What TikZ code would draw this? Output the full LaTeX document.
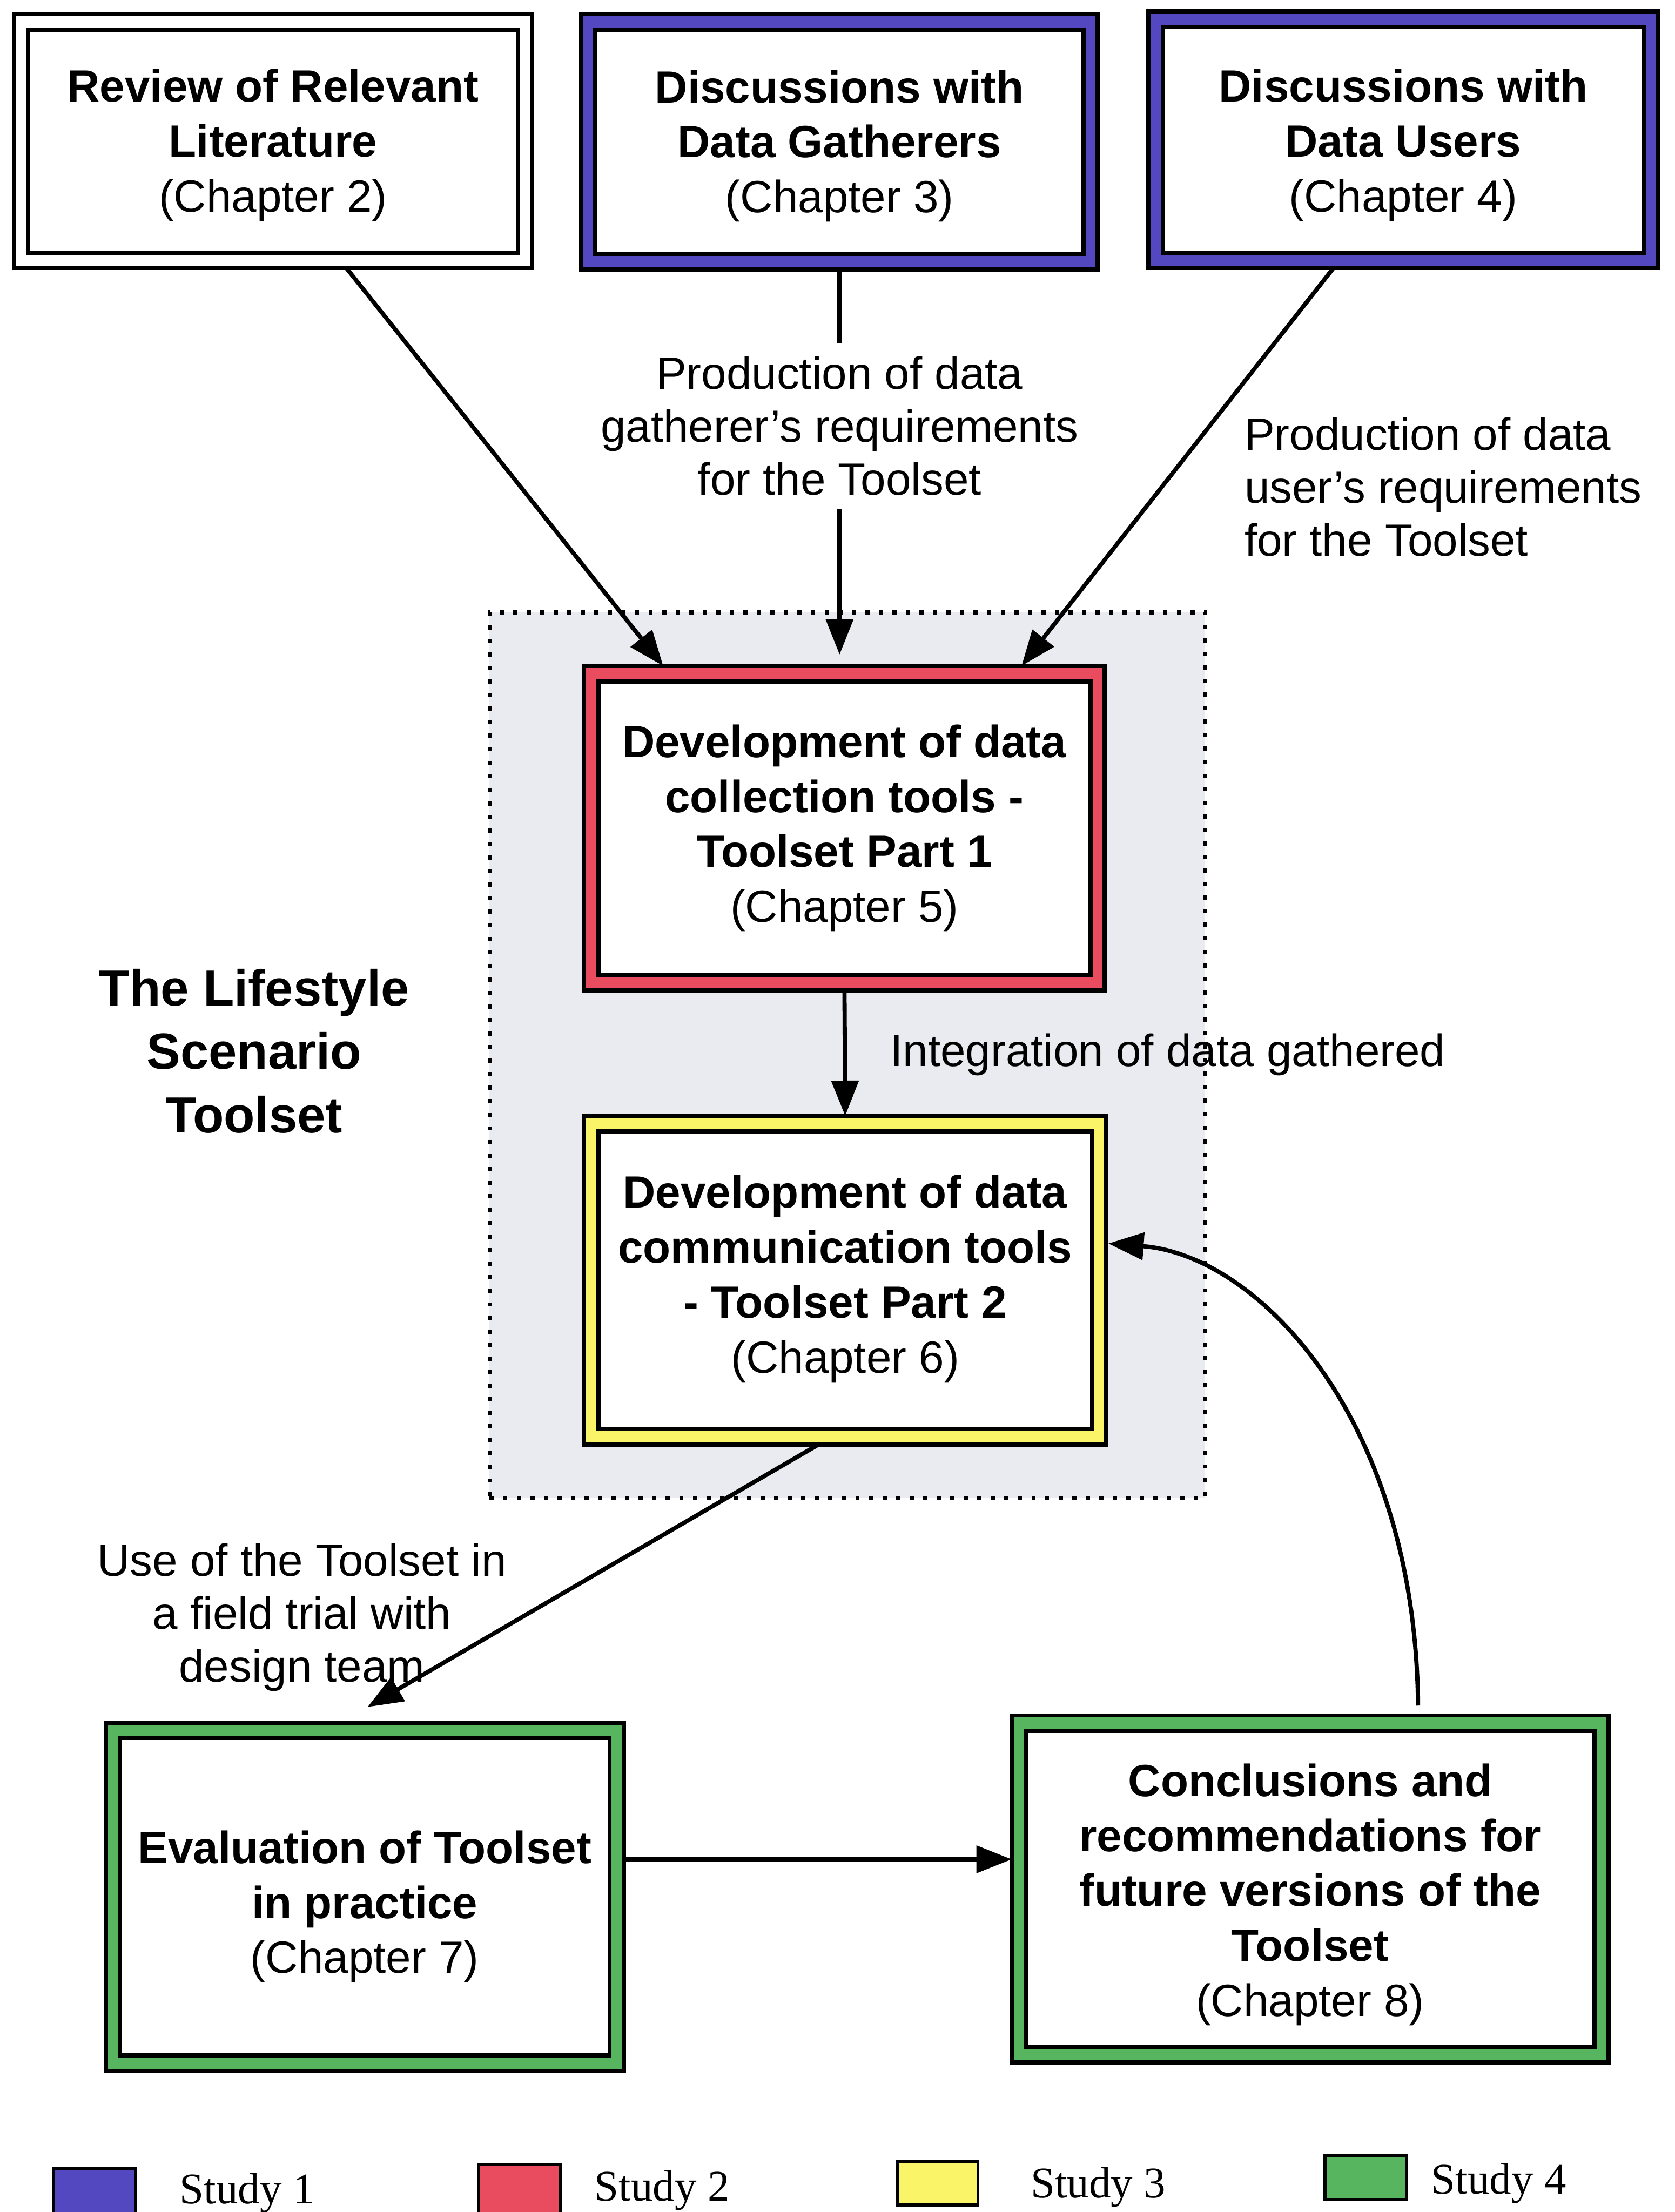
\documentclass[tikz,border=0pt]{standalone}
\usepackage{fontspec}
\setmainfont{Liberation Sans}
\newfontfamily\legendfont{Liberation Serif}
\usetikzlibrary{arrows.meta,calc,fit}

\definecolor{studyblue}{RGB}{84,72,192}
\definecolor{studyred}{RGB}{232,76,94}
\definecolor{studyyellow}{RGB}{250,244,104}
\definecolor{studygreen}{RGB}{86,181,94}
\definecolor{toolsetshade}{RGB}{234,234,241}

\tikzset{
  frame/.style={draw=black, line width=1.5pt, inner sep=0pt, outer sep=0pt},
  boxtext/.style={align=center, inner sep=0pt, font=\fontsize{16}{19.5}\selectfont},
  note/.style={inner sep=0pt, outer sep=0pt, font=\fontsize{16}{18.75}\selectfont},
  conn/.style={line width=1.5pt, -{Triangle[length=12.5pt,width=9.5pt]}},
  keybox/.style={draw=black, line width=1pt, inner sep=0pt, outer sep=0pt},
  keytext/.style={inner sep=0pt, anchor=base west, font=\legendfont\fontsize{15.5}{18}\selectfont},
}

% double-framed chapter box: name, band colour, corners, text offset, text
\newcommand\chapbox[8]{%
  \node[frame, fill=#2, fit={(#3,#4) (#5,#6)}] (#1) {};
  \draw[frame, fill=white] ($(#1.south west)+(5pt,5.5pt)$) rectangle ($(#1.north east)+(-5pt,-5.5pt)$);
  \node[boxtext] (#1-txt) at ($(#1.center)+(0,#7)$) {#8};
}

\begin{document}
\begin{tikzpicture}[x=0.5pt, y=-0.5pt]
  \useasboundingbox (0,0) rectangle (1187,1568);
  \fill[white] (0,0) rectangle (1187,1568);

  % shaded area holding the two parts of the toolset
  \node[fit={(347,434) (854,1062)}, inner sep=0pt, outer sep=0pt,
        fill=toolsetshade, draw=black, line width=1.5pt,
        dash pattern=on 1.5pt off 3.3pt] (zone) {};

  % chapter boxes
  \chapbox{B1}{white}{10}{10}{377}{190}{3}{\textbf{Review of Relevant}\\\textbf{Literature}\\(Chapter 2)}
  \chapbox{B2}{studyblue}{412}{10}{778}{191}{3}{\textbf{Discussions with}\\\textbf{Data Gatherers}\\(Chapter 3)}
  \chapbox{B3}{studyblue}{814}{8}{1175}{190}{4}{\textbf{Discussions with}\\\textbf{Data Users}\\(Chapter 4)}
  \chapbox{R}{studyred}{414}{472}{783}{702}{0}{\textbf{Development of data}\\\textbf{collection tools -}\\\textbf{Toolset Part 1}\\(Chapter 5)}
  \chapbox{Y}{studyyellow}{414}{791}{784}{1024}{-1}{\textbf{Development of data}\\\textbf{communication tools}\\\textbf{- Toolset Part 2}\\(Chapter 6)}
  \chapbox{G1}{studygreen}{75}{1221}{442}{1468}{7}{\textbf{Evaluation of Toolset}\\\textbf{in practice}\\(Chapter 7)}
  \chapbox{G2}{studygreen}{717}{1216}{1140}{1462}{4}{\textbf{Conclusions and}\\\textbf{recommendations for}\\\textbf{future versions of the}\\\textbf{Toolset}\\(Chapter 8)}

  % side title
  \node[align=center, inner sep=0pt, font=\bfseries\fontsize{18}{22.5}\selectfont]
    (title) at (180,745) {The Lifestyle\\Scenario\\Toolset};

  % connector labels
  \node[note, align=center, minimum height=59pt] (needsG) at (595,302)
    {Production of data\\gatherer’s requirements\\for the Toolset};
  \node[note, align=left, anchor=north west] (needsU) at (882,296)
    {Production of data\\user’s requirements\\for the Toolset};
  \node[note, anchor=base west] (integ) at (631,756) {Integration of data gathered};
  \node[note, align=center, anchor=north] (fieldtrial) at (214,1094)
    {Use of the Toolset in\\a field trial with\\design team};

  % connectors
  \draw[conn] ($(B1.south)+(52,0)$) -- ($(R.north)+(-128.5,0)$);
  \draw[line width=1.5pt] (B2.south) -- (needsG.north);
  \draw[conn, shorten >=4pt] (needsG.south) -- (needsG.south |- R.north);
  \draw[conn] ($(B3.south)+(-49.5,0)$) -- ($(R.north)+(125.5,0)$);
  \draw[conn] (R.south) -- (Y.north);
  \draw[conn] ($(Y.south)+(-19,0)$) -- ($(G1.north)+(2,-11)$);
  \coordinate (g1out) at ($(G1.east)+(0,-26.5)$);
  \draw[conn] (g1out) -- (g1out -| G2.west);
  \coordinate (g2out) at ($(G2.north)+(76.5,-7)$);
  \coordinate (yin) at ($(Y.east)+(1.5,-26)$);
  \draw[conn] (g2out) .. controls +(-2,-205) and +(105,8) .. (yin);

  % key
  \node[keybox, fill=studyblue,   fit={(38,1537) (96,1580)}]   (key1) {};
  \node[keybox, fill=studyred,    fit={(339,1534) (397,1580)}] (key2) {};
  \node[keybox, fill=studyyellow, fit={(636,1532) (693,1563)}] (key3) {};
  \node[keybox, fill=studygreen,  fit={(939,1528) (997,1559)}] (key4) {};
  \node[keytext] (key1-txt) at (127,1562) {Study 1};
  \node[keytext] (key2-txt) at (421,1560) {Study 2};
  \node[keytext] (key3-txt) at (730,1558) {Study 3};
  \node[keytext] (key4-txt) at (1014,1555) {Study 4};
\end{tikzpicture}
\end{document}
